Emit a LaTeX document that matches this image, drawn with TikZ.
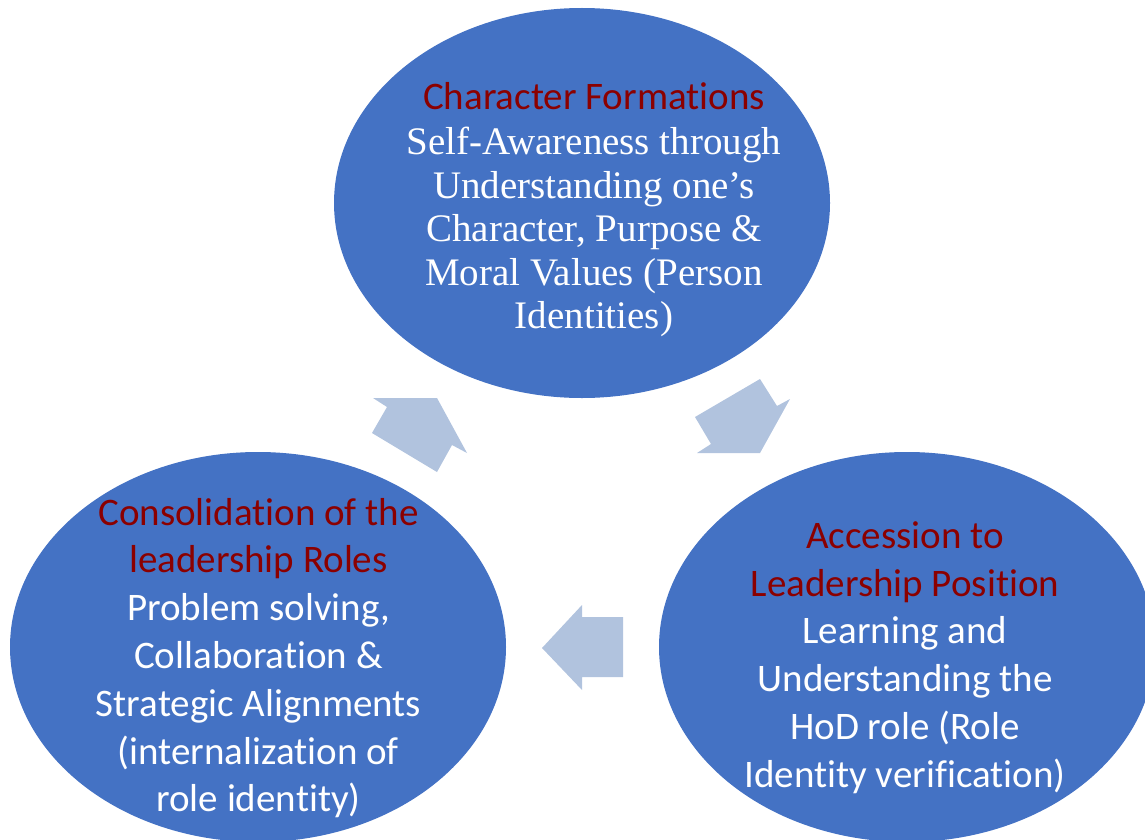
\documentclass[tikz,border=0pt]{standalone}
\usepackage{fontspec}
\setmainfont{Liberation Serif}
\newfontfamily\calibri[Ligatures={NoCommon}]{Carlito}
\usetikzlibrary{shapes.geometric}
\definecolor{ovalblue}{HTML}{4472C4}
\definecolor{arrowblue}{HTML}{B1C3DE}
\definecolor{headred}{HTML}{8B0000}
\begin{document}
\begin{tikzpicture}[x=1pt,y=-1pt,
  oval/.style={ellipse, fill=ovalblue, draw=none, minimum width=496pt, minimum height=390pt, inner sep=0pt},
  cyclearrow/.style={fill=arrowblue, draw=none},
  headline/.style={anchor=base, text=headred, font=\calibri\fontsize{39}{47}\selectfont, inner sep=0pt},
  bodyline/.style={anchor=base, text=white, font=\calibri\fontsize{39}{47}\selectfont, inner sep=0pt},
  serifline/.style={anchor=base, text=white, font=\rmfamily\fontsize{39}{44}\selectfont, inner sep=0pt}]
\useasboundingbox (0,0) rectangle (1145,840);
\clip (0,0) rectangle (1145,840);

% the three stages of the cycle
\node[oval] (formation) at (582,203) {};
\node[oval] (consolidation) at (258,647) {};
\node[oval] (accession) at (907,647) {};

% block arrows between the stages
\fill[cyclearrow] (437,398) -- (467,453) -- (452,445) -- (437,472) -- (372,433) -- (387,407) -- (373,398) -- cycle;
\fill[cyclearrow] (760,453) -- (697,453) -- (711,444) -- (695,417) -- (760,379) -- (777,406) -- (790,399) -- cycle;
\fill[cyclearrow] (542,648) -- (582,605) -- (582,617) -- (623,617) -- (623,677) -- (582,677) -- (582,690) -- cycle;

% stage 1: character formation
\node[headline]  (f0) at (594,110)   {Character Formations};
\node[serifline] (f1) at (594,154.5) {Self-Awareness through};
\node[serifline] (f2) at (594,198)   {Understanding one’s};
\node[serifline] (f3) at (594,241.5) {Character, Purpose \&};
\node[serifline] (f4) at (594,285)   {Moral Values (Person};
\node[serifline] (f5) at (594,328.5) {Identities)};

% stage 2: accession
\node[headline] (a0) at (905,548)   {Accession to};
\node[headline] (a1) at (905,596)   {Leadership Position};
\node[bodyline] (a2) at (905,643.6) {Learning and};
\node[bodyline] (a3) at (905,691.4) {Understanding the};
\node[bodyline] (a4) at (905,739.2) {HoD role (Role};
\node[bodyline] (a5) at (905,787)   {Identity verification)};

% stage 3: consolidation
\node[headline] (c0) at (258.5,525)   {Consolidation of the};
\node[headline] (c1) at (258.5,572.8) {leadership Roles};
\node[bodyline] (c2) at (258.5,620.6) {Problem solving,};
\node[bodyline] (c3) at (258.5,668.4) {Collaboration \&};
\node[bodyline] (c4) at (258.5,716.2) {Strategic Alignments};
\node[bodyline] (c5) at (258.5,764)   {(internalization of};
\node[bodyline] (c6) at (258.5,811.8) {role identity)};
\end{tikzpicture}
\end{document}
